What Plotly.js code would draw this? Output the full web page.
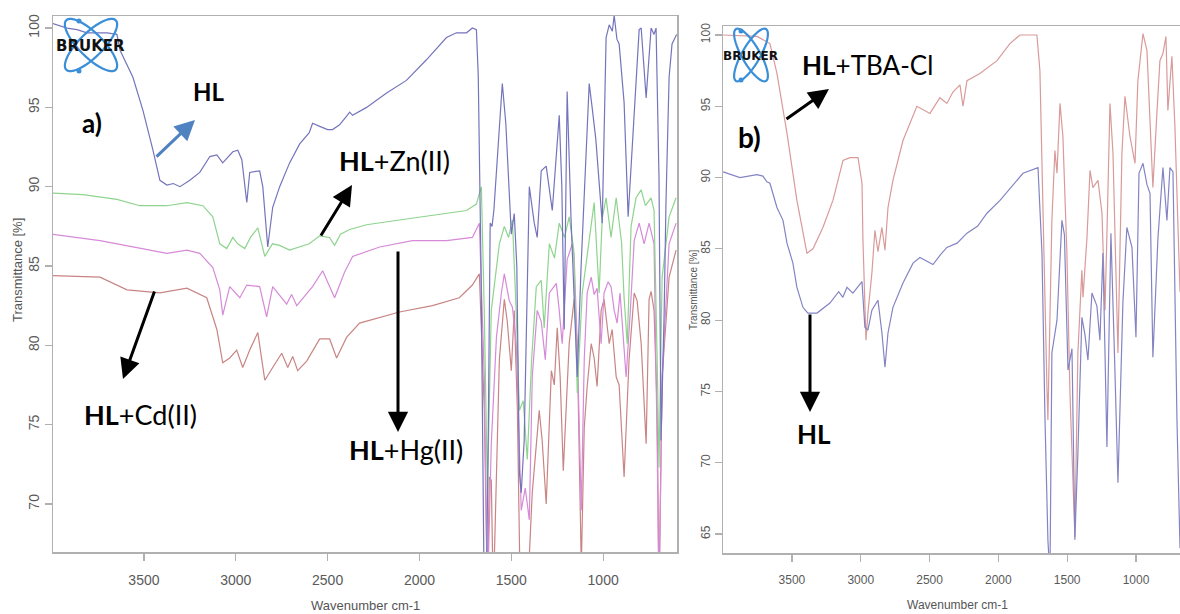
<!DOCTYPE html>
<html>
<head>
<meta charset="utf-8">
<script src="https://cdn.plot.ly/plotly-3.0.1.min.js"></script>
<style>html,body{margin:0;padding:0;background:#fff;}#chart{width:1180px;height:614px;}</style>
</head>
<body>
<div id="chart"></div>
<script>
// ---------------- DATA ----------------
// Panel a) HL
const a_HL_wn = [4000,3918,3864,3810,3755,3701,3647,3630,3560,3505,3451,3413,3375,3340,3304,3250,3196,3141,3103,3071,3016,2989,2967,2940,2924,2870,2853,2826,2799,2761,2707,2652,2600,2582,2543,2500,2473,2435,2400,2380,2364,2288,2179,2071,1962,1853,1799,1744,1712,1690,1680,1665,1650,1640,1625,1615,1605,1595,1549,1530,1500,1484,1470,1456,1446,1430,1402,1375,1359,1337,1310,1277,1239,1225,1212,1196,1175,1141,1120,1076,1060,1040,1005,984,967,950,940,925,913,900,886,864,842,804,793,766,739,723,712,696,685,668,658,641,625,600];
const a_HL = [100.3,100,99.9,99.7,99.7,99.7,99.6,98.6,96.9,94.8,92.3,90.4,90.1,90.2,90.0,90.4,90.9,91.9,92.0,91.5,92.2,92.3,91.7,89.0,90.9,91.0,90.0,86.2,88.7,90.0,91.5,92.7,93.4,94.0,93.8,93.6,93.6,93.9,94.4,94.7,94.5,95.0,95.9,96.7,98.0,99.4,99.7,99.7,100,99.9,97,85,67,60,75,87.7,87.5,88.5,96.5,94,87,88.3,85,72,70.7,74,90,87.7,86.8,91,91.3,88.5,94.5,90,81,96,88,78,85,96.5,95,93,87.7,99.4,100.2,99.8,100.8,99.3,99,97,95.3,88.1,92.3,99.9,100,95.6,100,99.6,100,90.6,74,82,89,96.9,99,99.6];

// Panel a) HL+Zn(II)
const a_Zn_wn = [4000,3832,3647,3522,3375,3266,3179,3125,3087,3049,3016,2990,2951,2920,2880,2842,2800,2761,2707,2652,2600,2543,2490,2462,2430,2380,2288,2109,1929,1744,1690,1663,1647,1630,1609,1565,1538,1515,1494,1473,1456,1435,1413,1390,1364,1337,1321,1293,1265,1239,1210,1185,1160,1141,1114,1076,1049,1022,1005,984,957,929,900,886,869,848,821,793,770,739,723,706,696,679,641,603];
const a_Zn = [89.6,89.5,89.2,88.8,88.8,89.0,88.8,88.1,86.4,86.1,86.8,86.4,86.1,86.8,87.4,85.6,86.4,86.3,86.0,86.2,86.4,86.9,86.8,86.3,87.0,87.3,87.6,87.9,88.2,88.5,88.9,90.0,82,70.7,82.2,86.4,87.5,86.8,87.9,82,75.9,76.5,72.8,79,83.7,84.1,81.1,86.4,85.5,87.7,86.8,88.1,86,77,83.3,86.8,89.0,83.3,88,89.3,86.8,89.3,86.5,83,80.1,87.5,89.3,89.8,88.8,89.3,88.5,79.1,72.3,84.3,88.1,89.3];

// Panel a) HL+Hg(II)
const a_Hg_wn = [4000,3739,3560,3375,3266,3196,3125,3087,3071,3033,2978,2940,2870,2832,2799,2723,2696,2668,2582,2527,2462,2408,2364,2217,2038,1853,1712,1674,1647,1630,1609,1581,1554,1538,1511,1494,1473,1446,1424,1402,1386,1359,1337,1315,1293,1255,1239,1223,1196,1168,1158,1141,1119,1103,1087,1065,1049,1033,1011,995,973,957,940,924,908,875,853,831,804,777,750,723,706,696,679,641,603];
const a_Hg = [87.0,86.6,86.2,85.8,86.0,85.8,84.9,83.5,81.9,83.7,83.0,83.8,83.7,81.8,83.7,82.6,83.2,82.5,83.7,84.7,83.0,84.6,85.6,86.2,86.6,86.6,86.8,87.7,78,64,73.8,80.5,83.3,84.5,82.8,82.4,80.1,69.6,71,69,78,82.2,81.5,79.1,83.3,83.9,82.2,80.1,85.4,86.4,85.6,80,69.6,79.1,83.3,84.3,83.2,83.6,80.1,83.3,84.0,83.7,82.2,81.4,83.3,78,82,86.6,87.7,86.4,87.7,86.4,73.8,64,78,86.4,87.7];

// Panel a) HL+Cd(II)
const a_Cd_wn = [4000,3739,3592,3413,3266,3158,3103,3071,3033,2995,2962,2924,2880,2842,2799,2750,2717,2690,2663,2614,2543,2489,2451,2397,2326,2201,2109,1929,1783,1712,1674,1647,1630,1620,1609,1598,1565,1538,1522,1500,1484,1467,1451,1413,1386,1348,1332,1310,1282,1266,1250,1234,1217,1185,1158,1141,1119,1103,1087,1065,1049,1033,1011,995,967,951,929,913,886,859,831,815,793,766,750,739,723,706,696,679,641,603];
const a_Cd = [84.4,84.3,83.5,83.3,83.6,83.0,81.0,78.9,79.2,79.7,78.6,79.7,80.8,77.8,78.6,79.5,78.6,79.3,78.4,79.0,80.4,80.4,79.2,80.5,81.4,81.8,82.1,82.5,83.0,83.8,84.5,75.9,64,71.7,71.5,64,79.1,82.9,81.5,78.4,82.2,76,64,64,70.7,75.9,74,70.0,78.4,77.5,81.1,78,72.1,80.1,82.9,80,66,74.8,77.4,80.1,79.2,77.4,82.2,82.9,80.1,81,78,77.5,71.7,79.1,83.3,82.8,80.1,73.8,82.9,83.4,82.2,75.9,64,78,84.3,86.0];

// Panel b) HL+TBA-Cl
const b_TBA_wn = [4000,3754,3660,3609,3536,3464,3391,3347,3275,3202,3129,3079,3020,2991,2984,2962,2948,2919,2897,2875,2846,2824,2802,2766,2693,2592,2497,2425,2374,2330,2279,2257,2228,2134,2010,1916,1843,1720,1698,1676,1647,1640,1611,1589,1574,1552,1531,1502,1480,1444,1422,1393,1385,1356,1334,1313,1276,1247,1225,1211,1189,1167,1131,1102,1080,1044,1007,986,949,920,898,877,848,826,804,782,768,739,717,695,680];
const b_TBA = [100,99.9,99.4,97.3,93.1,88.4,84.7,85.0,86.5,88.4,91.2,91.4,91.4,89.6,85.6,78.6,80.5,83.3,86.3,84.8,86.5,84.9,87.9,89.8,92.6,95.0,94.5,95.6,95.2,96.0,96.5,95.0,96.8,97.3,98.2,99.4,100,100,97.5,87.0,75.3,73.0,87,91.9,90.3,95.2,92.9,84.7,75,64.8,77.7,83.5,81.6,85.8,90.5,89.3,89.8,87.5,80.7,86,95.2,91.7,77.7,91.7,95.7,92.9,91.0,96.8,100.1,98.9,94.5,89.3,94.5,98.2,98.7,99.9,94.7,98.5,93.6,85.8,82];

// Panel b) HL
const b_HL_wn = [4000,3878,3754,3711,3682,3660,3609,3565,3536,3493,3464,3420,3384,3318,3224,3160,3130,3100,3057,2991,2970,2948,2919,2875,2846,2824,2802,2766,2693,2620,2570,2475,2420,2374,2300,2228,2150,2083,1988,1900,1821,1712,1683,1661,1640,1625,1611,1574,1538,1520,1494,1465,1444,1422,1393,1371,1349,1320,1284,1262,1240,1211,1182,1153,1131,1095,1066,1029,1000,978,949,920,898,877,840,804,775,753,731,702,688,680];
const b_HL = [90.4,90.0,90.2,90.1,89.7,89.6,87.9,87.0,85.4,84.0,82.3,80.9,80.5,80.5,81.2,82.0,81.6,82.3,81.9,82.7,79.5,79.3,80.7,81.4,79.1,76.7,79.1,80.9,82.6,84.0,84.4,83.9,84.6,85.1,85.4,86.1,86.6,87.5,88.4,89.4,90.3,90.7,84.7,73,64.6,62,77.7,80.0,87.0,86,76.5,78,64.6,70.7,80.2,79,77.2,81.9,81,78.6,84.7,71.1,86.1,76.5,68.6,81.2,86.5,85.1,78.8,90.3,91.0,89.5,88.9,77.4,85.8,90.7,87.0,90.7,90.4,73.0,66.5,64];

const xTicks = [3500,3000,2500,2000,1500,1000];
const yTicksA = [70,75,80,85,90,95,100];
const yTicksB = [65,70,75,80,85,90,95,100];

// ---------------- STYLE / LAYOUT ----------------
const W = 1180, H = 614;
const PX = x => x / W;
const PY = y => 1 - y / H;

function line(x, y, color, xa, ya, name) {
  return {x: x, y: y, type: 'scatter', mode: 'lines', name: name,
          xaxis: xa, yaxis: ya, line: {color: color, width: 1.2}, hoverinfo: 'skip'};
}

const traces = [
  line(a_Cd_wn, a_Cd, '#c98484', 'x', 'y', 'HL+Cd(II)'),
  line(a_Hg_wn, a_Hg, '#d68ad8', 'x', 'y', 'HL+Hg(II)'),
  line(a_Zn_wn, a_Zn, '#8ed48e', 'x', 'y', 'HL+Zn(II)'),
  line(a_HL_wn, a_HL, '#7474bc', 'x', 'y', 'HL'),
  line(b_TBA_wn, b_TBA, '#d99a9a', 'x2', 'y2', 'HL+TBA-Cl'),
  line(b_HL_wn, b_HL, '#8484c4', 'x2', 'y2', 'HL')
];

const axisCommon = {
  showgrid: false, zeroline: false, showline: true, linecolor: '#b0b0b0', linewidth: 1.5,
  ticks: 'outside', ticklen: 7, tickwidth: 1.2, tickcolor: '#b0b0b0',
  fixedrange: true
};

function ellipsePath(cx, cy, a, b, angDeg) {
  const t = angDeg * Math.PI / 180;
  let d = '';
  for (let i = 0; i <= 48; i++) {
    const u = 2 * Math.PI * i / 48;
    const ex = a * Math.cos(u), ey = b * Math.sin(u);
    const x = cx + ex * Math.cos(t) - ey * Math.sin(t);
    const y = cy + ex * Math.sin(t) + ey * Math.cos(t);
    d += (i === 0 ? 'M' : 'L') + PX(x).toFixed(5) + ',' + PY(y).toFixed(5);
  }
  return d + 'Z';
}
function logo(cx, cy, a, b, ang, dots) {
  const s = [];
  s.push({type: 'path', xref: 'paper', yref: 'paper', path: ellipsePath(cx, cy, a, b, ang), line: {color: '#3a8fd8', width: 2.2}});
  s.push({type: 'path', xref: 'paper', yref: 'paper', path: ellipsePath(cx, cy, a, b, -ang), line: {color: '#3a8fd8', width: 2.2}});
  dots.forEach(d => s.push({type: 'circle', xref: 'paper', yref: 'paper',
    x0: PX(d[0] - 2.5), x1: PX(d[0] + 2.5), y0: PY(d[1] + 2.5), y1: PY(d[1] - 2.5),
    fillcolor: '#3a8fd8', line: {width: 0}}));
  return s;
}

const shapes = [].concat(
  logo(91, 45, 35, 12, 45, [[79, 21], [79, 71]]),
  logo(751, 55, 30, 9, 60, [[741, 31], [741, 80]])
);

const big = 'Lato, "Open Sans", sans-serif';
function txt(x, y, text, size, opts) {
  return Object.assign({xref: 'paper', yref: 'paper', x: PX(x), y: PY(y), text: text,
    showarrow: false, xanchor: 'center', yanchor: 'middle',
    font: {family: big, size: size, color: '#000'}}, opts || {});
}
function arrow(hx, hy, tx, ty, color) {
  return {xref: 'paper', yref: 'paper', x: PX(hx), y: PY(hy), ax: tx - hx, ay: ty - hy,
    text: '', showarrow: true, arrowhead: 2, arrowsize: 1.35, arrowwidth: 3,
    arrowcolor: color, standoff: 0, startstandoff: 0};
}

const annotations = [
  // logos text
  txt(90, 46, '<b>BRUKER</b>', 15, {font: {family: 'DejaVu Sans', size: 15, color: '#111'}}),
  txt(750, 56, '<b>BRUKER</b>', 12, {font: {family: 'DejaVu Sans', size: 12, color: '#111'}}),
  // panel a labels
  txt(208, 91, '<b>HL</b>', 24),
  txt(92, 123, '<b>a)</b>', 26),
  txt(394, 160, '<b>HL</b>+Zn(II)', 27),
  txt(406, 449, '<b>HL</b>+Hg(II)', 27),
  txt(140, 414, '<b>HL</b>+Cd(II)', 27),
  arrow(195, 120, 155, 158, '#4f82c0'),
  arrow(352, 185, 320, 237, '#000'),
  arrow(398, 432, 398, 250, '#000'),
  arrow(123, 379, 155, 290, '#000'),
  // panel b labels
  txt(868, 65, '<b>HL</b>+TBA-Cl', 26),
  txt(749, 137, '<b>b)</b>', 28),
  txt(814, 434, '<b>HL</b>', 26),
  arrow(829, 89, 785, 120, '#000'),
  arrow(810, 412, 810, 313, '#000'),
  // axis titles
  txt(17, 270, 'Transmittance [%]', 13, {textangle: -90, font: {family: 'Liberation Sans, Arial', size: 13, color: '#555'}}),
  txt(365, 605, 'Wavenumber cm-1', 13, {font: {family: 'Liberation Sans, Arial', size: 13, color: '#555'}}),
  txt(693, 290, 'Transmittance [%]', 10, {textangle: -90, font: {family: 'Liberation Sans, Arial', size: 10, color: '#555'}}),
  txt(957, 605, 'Wavenumber cm-1', 12, {font: {family: 'Liberation Sans, Arial', size: 12, color: '#555'}})
];

const tickFontA = {family: 'Liberation Sans, Arial', size: 14, color: '#5a5a5a'};
const tickFontB = {family: 'Liberation Sans, Arial', size: 12, color: '#5a5a5a'};

const layout = {
  width: W, height: H,
  margin: {l: 0, r: 0, t: 0, b: 0},
  paper_bgcolor: '#fff', plot_bgcolor: '#fff',
  showlegend: false,
  xaxis: Object.assign({}, axisCommon, {domain: [PX(53), PX(677)], range: [3995, 598], anchor: 'y',
    tickvals: xTicks, ticktext: xTicks.map(String), tickfont: tickFontA, mirror: true, ticklabelstandoff: 8}),
  yaxis: Object.assign({}, axisCommon, {domain: [PY(552), PY(16)], range: [66.97, 100.76], anchor: 'x',
    tickvals: yTicksA, ticktext: yTicksA.map(String), tickfont: tickFontA, tickangle: -90, mirror: true, ticklabelstandoff: 0}),
  xaxis2: Object.assign({}, axisCommon, {domain: [PX(723), 1], range: [4001, 680], anchor: 'y2',
    tickvals: xTicks, ticktext: xTicks.map(String), tickfont: tickFontB, mirror: true, ticklabelstandoff: 8}),
  yaxis2: Object.assign({}, axisCommon, {domain: [PY(553), PY(26)], range: [63.67, 100.63], anchor: 'x2',
    tickvals: yTicksB, ticktext: yTicksB.map(String), tickfont: tickFontB, tickangle: -90, mirror: false, ticklabelstandoff: 0}),
  shapes: shapes,
  annotations: annotations
};

Plotly.newPlot('chart', traces, layout, {displayModeBar: false, staticPlot: true});
</script>
</body>
</html>
